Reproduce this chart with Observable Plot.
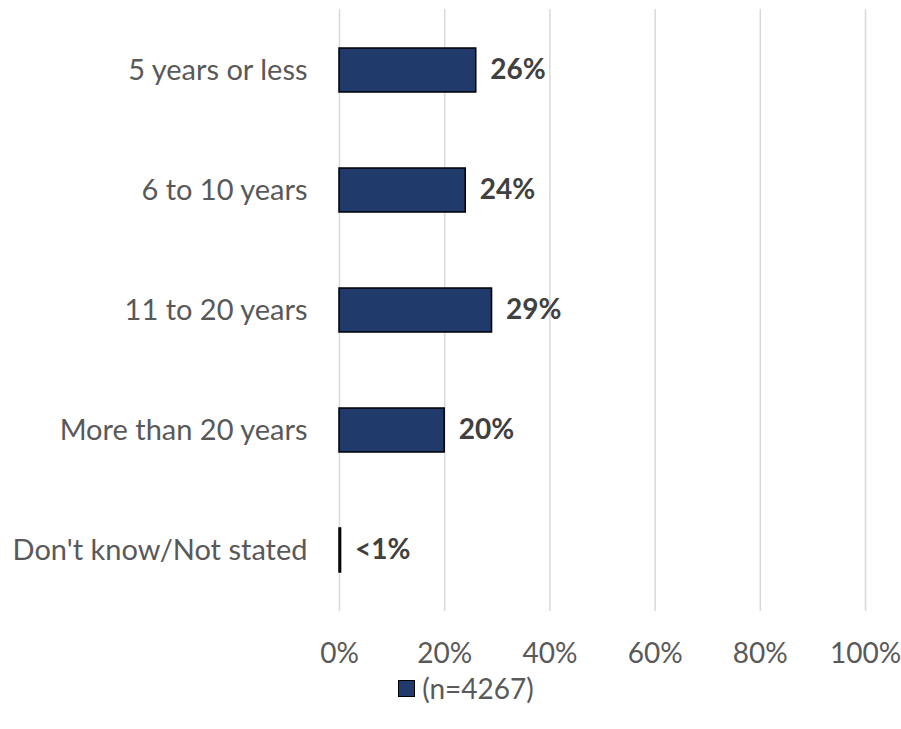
<!DOCTYPE html>
<html>
<head>
<meta charset="utf-8">
<script src="https://cdn.jsdelivr.net/npm/d3@7"></script>
<script src="https://cdn.jsdelivr.net/npm/@observablehq/plot@0.6"></script>
<style>
  html, body { margin: 0; padding: 0; background: #fff; }
  body { width: 901px; font-family: Lato, "Open Sans", sans-serif; }
  #legend { display: flex; justify-content: center; align-items: center; margin-left: 31px; margin-top: -2px; font-size: 28px; line-height: 34px; color: #595959; }
  #legend .sw { width: 17px; height: 17px; background: #1F3A6B; border: 1.5px solid #000; box-sizing: border-box; margin-right: 7px; }
</style>
</head>
<body>
<div id="chart"></div>
<div id="legend"><span class="sw"></span><span id="legtext"></span></div>
<script>
const categories = ["5 years or less", "6 to 10 years", "11 to 20 years", "More than 20 years", "Don't know/Not stated"];
const values = [26, 24, 29, 20, 0.3];
const valueLabels = ["26%", "24%", "29%", "20%", "<1%"];
const xTicks = [0, 20, 40, 60, 80, 100];
const seriesName = "(n=4267)";

const data = categories.map((c, i) => ({category: c, value: values[i], label: valueLabels[i]}));

const chart = Plot.plot({
  width: 901,
  height: 673,
  marginTop: 9,
  marginBottom: 62,
  marginLeft: 339,
  marginRight: 36,
  style: {fontFamily: "Lato, 'Open Sans', sans-serif", background: "#fff"},
  x: {domain: [0, 100], ticks: xTicks},
  y: {domain: categories, paddingInner: 0.63, paddingOuter: 0.315},
  marks: [
    Plot.gridX(xTicks, {stroke: "#d9d9d9", strokeOpacity: 1, strokeWidth: 1.5}),
    Plot.barX(data, {x: "value", y: "category", fill: "#1F3A6B", stroke: "#000", strokeWidth: 1.5}),
    Plot.text(data, {x: "value", y: "category", text: "label", textAnchor: "start", dx: 14, fontSize: 28, fontWeight: "bold", fill: "#404040"}),
    Plot.axisX({ticks: xTicks, tickFormat: d => d + "%", tickSize: 0, tickPadding: 32, fontSize: 28, color: "#595959", label: null}),
    Plot.axisY({tickSize: 0, tickPadding: 32, fontSize: 29, color: "#595959", label: null})
  ]
});
document.getElementById("chart").appendChild(chart);
document.getElementById("legtext").textContent = seriesName;
</script>
</body>
</html>
